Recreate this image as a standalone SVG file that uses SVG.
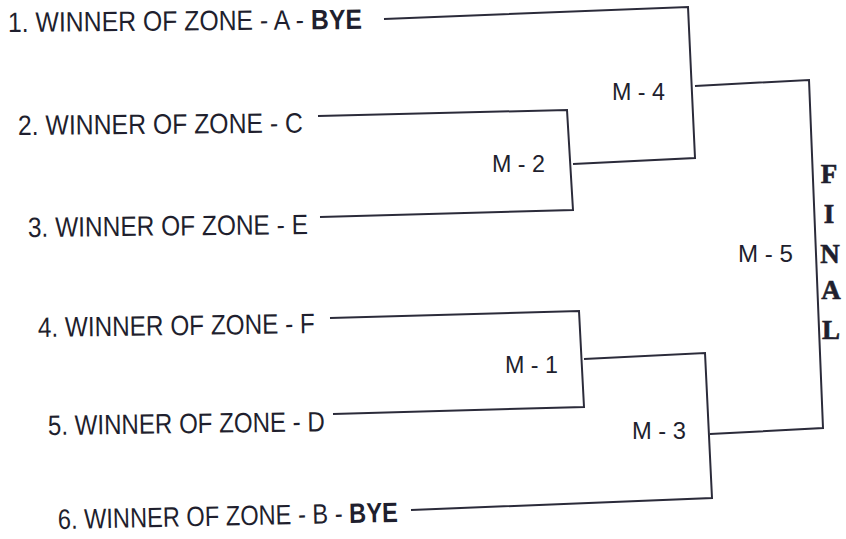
<svg xmlns="http://www.w3.org/2000/svg" width="846" height="539" viewBox="0 0 846 539">
<style>
.bg{fill:#ffffff}
.ln{fill:none;stroke:#2b2b3a;stroke-width:2;stroke-linejoin:miter}
.t{font-family:"Liberation Sans",Arial,sans-serif;font-size:28px;fill:#1f1f2e}
.m{font-family:"Liberation Sans",Arial,sans-serif;font-size:24px;fill:#1f1f2e}
.b{font-weight:bold}
.f{font-family:"Liberation Serif","Times New Roman",serif;font-size:27px;font-weight:bold;fill:#1f1f2e;text-anchor:middle;stroke:#1f1f2e;stroke-width:0.6}
</style>
<rect class="bg" x="0" y="0" width="846" height="539"/>
<g id="connectors">
<polyline class="ln" points="384,19 688,7 695,158 573,164"/>
<polyline class="ln" points="318,116 567,110 573,210 320,217"/>
<polyline class="ln" points="695,86 809,80 823,428 710,434"/>
<polyline class="ln" points="330,318 579,311 584,407 333,414"/>
<polyline class="ln" points="584,359 705,353 712,498 411,510"/>
</g>
<g id="team1"><text class="t" x="8" y="32" textLength="354" lengthAdjust="spacingAndGlyphs" transform="rotate(-0.5 8 32)">1. WINNER OF ZONE - A - <tspan class="b">BYE</tspan></text></g>
<g id="team2"><text class="t" x="18" y="135" textLength="285" lengthAdjust="spacingAndGlyphs" transform="rotate(-0.5 18 135)">2. WINNER OF ZONE - C</text></g>
<g id="team3"><text class="t" x="28" y="237" textLength="280" lengthAdjust="spacingAndGlyphs" transform="rotate(-0.6 28 237)">3. WINNER OF ZONE - E</text></g>
<g id="team4"><text class="t" x="38" y="337" textLength="277" lengthAdjust="spacingAndGlyphs" transform="rotate(-0.8 38 337)">4. WINNER OF ZONE - F</text></g>
<g id="team5"><text class="t" x="48" y="435" textLength="277" lengthAdjust="spacingAndGlyphs" transform="rotate(-0.8 48 435)">5. WINNER OF ZONE - D</text></g>
<g id="team6"><text class="t" x="58" y="529" textLength="340" lengthAdjust="spacingAndGlyphs" transform="rotate(-1.2 58 529)">6. WINNER OF ZONE - B - <tspan class="b">BYE</tspan></text></g>
<g id="m4"><text class="m" x="612" y="100" textLength="53" lengthAdjust="spacingAndGlyphs">M - 4</text></g>
<g id="m2"><text class="m" x="492" y="172" textLength="53" lengthAdjust="spacingAndGlyphs">M - 2</text></g>
<g id="m1"><text class="m" x="505" y="373" textLength="53" lengthAdjust="spacingAndGlyphs">M - 1</text></g>
<g id="m3"><text class="m" x="632" y="439" textLength="54" lengthAdjust="spacingAndGlyphs">M - 3</text></g>
<g id="m5"><text class="m" x="738" y="262" textLength="55" lengthAdjust="spacingAndGlyphs">M - 5</text></g>
<g id="final">
<text class="f" x="829" y="183">F</text>
<text class="f" x="829" y="223">I</text>
<text class="f" x="830" y="263">N</text>
<text class="f" x="831" y="299">A</text>
<text class="f" x="831" y="339">L</text>
</g>
</svg>
